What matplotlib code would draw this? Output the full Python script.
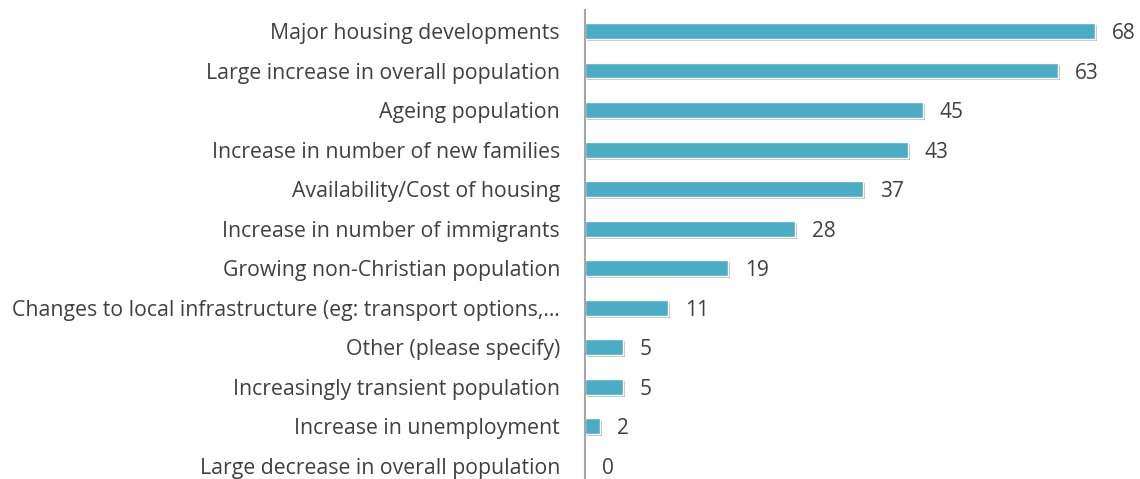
import matplotlib.pyplot as plt
import matplotlib.patheffects as pe

# 카테고리와 값 (위에서 아래 순서)
categories = [
    "Major housing developments",
    "Large increase in overall population",
    "Ageing population",
    "Increase in number of new families",
    "Availability/Cost of housing",
    "Increase in number of immigrants",
    "Growing non-Christian population",
    "Changes to local infrastructure (eg: transport options,\u2026",
    "Other (please specify)",
    "Increasingly transient population",
    "Increase in unemployment",
    "Large decrease in overall population",
]
values = [68, 63, 45, 43, 37, 28, 19, 11, 5, 5, 2, 0]

BAR_COLOR = "#4BACC6"
TEXT_COLOR = "#404040"

plt.rcParams["font.family"] = ["Open Sans", "DejaVu Sans"]

fig = plt.figure(figsize=(11.4, 4.79), dpi=100)
ax = fig.add_axes([585 / 1140, 0, 555 / 1140, 469 / 479])

positions = list(range(len(categories)))
bars = ax.barh(positions, values, height=0.4, color=BAR_COLOR,
               edgecolor="white", linewidth=1.0)
for bar in bars:
    bar.set_path_effects([pe.SimplePatchShadow(offset=(1.5, -1.5), alpha=0.3),
                          pe.Normal()])

for pos, val in zip(positions, values):
    ax.text(val + 2.3, pos, str(val), va="center_baseline", ha="left",
            fontsize=15, color=TEXT_COLOR)

ax.set_xlim(0, 74)
ax.set_ylim(11.33, -0.53)
ax.set_yticks(positions)
ax.set_yticklabels(categories, fontsize=15.3, color=TEXT_COLOR)
for lbl in ax.get_yticklabels():
    lbl.set_verticalalignment("center_baseline")
ax.tick_params(axis="y", length=0, pad=18)
ax.set_xticks([])

for side in ["top", "right", "bottom"]:
    ax.spines[side].set_visible(False)
ax.spines["left"].set_color("#A6A6A6")
ax.spines["left"].set_linewidth(1.5)

fig.savefig("out.png", dpi=100)
